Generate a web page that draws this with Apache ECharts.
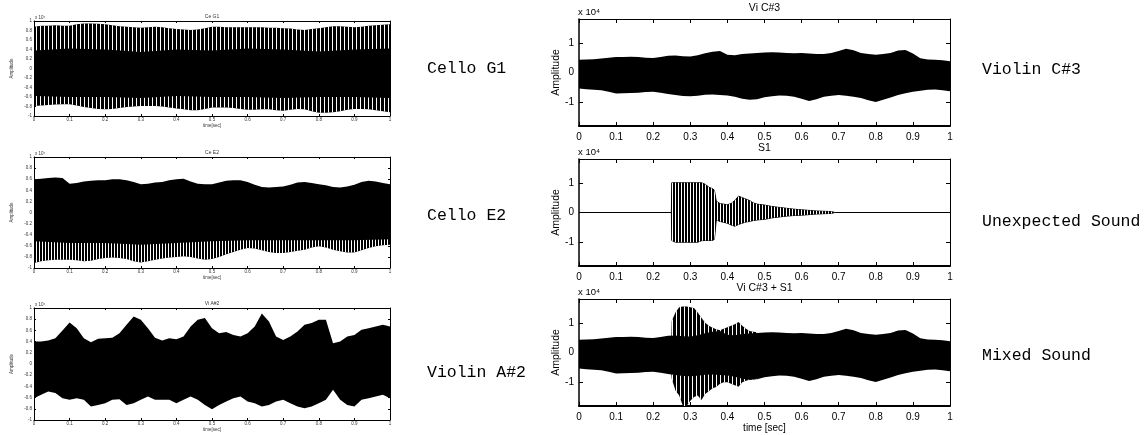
<!DOCTYPE html>
<html><head><meta charset="utf-8">
<script src="https://cdn.jsdelivr.net/npm/echarts@6/dist/echarts.min.js"></script>
<style>html,body{margin:0;padding:0;background:#fff}#c{width:1146px;height:435px}</style>
</head><body><div id="c"></div>
<script>
// ---------------- DATA ----------------
const timeGrid = [0,0.02,0.04,0.06,0.08,0.1,0.12,0.14,0.16,0.18,0.2,0.22,0.24,0.26,0.28,0.3,0.32,0.34,0.36,0.38,0.4,0.42,0.44,0.46,0.48,0.5,0.52,0.54,0.56,0.58,0.6,0.62,0.64,0.66,0.68,0.7,0.72,0.74,0.76,0.78,0.8,0.82,0.84,0.86,0.88,0.9,0.92,0.94,0.96,0.98,1];
const coarseTime = [0,0.1,0.2,0.3,0.4,0.5,0.6,0.7,0.8,0.9,1];
const xTickLabels = [0,0.1,0.2,0.3,0.4,0.5,0.6,0.7,0.8,0.9,1];
const rightYTicks = [-1,0,1];

// Cello G1 (amplitude x 10^4): spike envelope and dense core
const celloG1Upper = [0.88,0.9,0.9,0.91,0.9,0.9,0.93,0.95,0.95,0.94,0.93,0.91,0.89,0.88,0.87,0.86,0.87,0.88,0.87,0.85,0.83,0.82,0.81,0.82,0.85,0.88,0.88,0.87,0.87,0.87,0.87,0.87,0.87,0.86,0.86,0.85,0.84,0.82,0.81,0.83,0.85,0.87,0.89,0.89,0.88,0.87,0.88,0.9,0.91,0.92,0.93];
const celloG1Lower = [-0.79,-0.78,-0.77,-0.76,-0.75,-0.75,-0.78,-0.81,-0.83,-0.85,-0.86,-0.85,-0.83,-0.81,-0.8,-0.79,-0.79,-0.79,-0.8,-0.82,-0.84,-0.86,-0.88,-0.88,-0.85,-0.82,-0.82,-0.82,-0.83,-0.85,-0.87,-0.87,-0.86,-0.86,-0.88,-0.89,-0.87,-0.85,-0.86,-0.9,-0.93,-0.93,-0.92,-0.9,-0.87,-0.85,-0.85,-0.86,-0.88,-0.9,-0.92];
const celloG1CoreUpper = [0.38,0.42,0.4,0.35,0.4,0.38,0.42,0.4,0.36,0.4,0.42];
const celloG1CoreLower = [-0.58,-0.6,-0.6,-0.62,-0.58,-0.6,-0.6,-0.62,-0.6,-0.6,-0.62];

// Cello E2
const celloE2Upper = [0.6,0.61,0.62,0.63,0.62,0.52,0.53,0.56,0.57,0.58,0.58,0.6,0.6,0.58,0.55,0.51,0.52,0.54,0.55,0.58,0.6,0.61,0.56,0.52,0.51,0.51,0.54,0.57,0.58,0.58,0.55,0.5,0.46,0.45,0.46,0.47,0.5,0.54,0.55,0.53,0.51,0.49,0.46,0.45,0.47,0.5,0.55,0.57,0.56,0.53,0.51];
const celloE2Lower = [-0.91,-0.88,-0.86,-0.85,-0.85,-0.85,-0.86,-0.88,-0.87,-0.84,-0.82,-0.81,-0.82,-0.84,-0.88,-0.9,-0.88,-0.85,-0.83,-0.81,-0.8,-0.79,-0.8,-0.83,-0.85,-0.84,-0.8,-0.75,-0.71,-0.67,-0.64,-0.65,-0.68,-0.71,-0.73,-0.73,-0.71,-0.69,-0.67,-0.63,-0.61,-0.63,-0.67,-0.7,-0.72,-0.72,-0.68,-0.64,-0.61,-0.59,-0.58];
const celloE2CoreLower = [-0.52,-0.55,-0.55,-0.58,-0.55,-0.52,-0.5,-0.5,-0.5,-0.5,-0.48];

// Violin A#2
const violinA2Upper = [0.4,0.4,0.42,0.46,0.6,0.74,0.64,0.46,0.39,0.45,0.46,0.47,0.55,0.7,0.85,0.79,0.64,0.47,0.42,0.46,0.44,0.49,0.67,0.79,0.82,0.64,0.55,0.57,0.52,0.49,0.55,0.67,0.9,0.76,0.49,0.43,0.49,0.58,0.7,0.73,0.79,0.79,0.37,0.4,0.49,0.52,0.61,0.64,0.67,0.7,0.67];
const violinA2Lower = [-0.61,-0.55,-0.49,-0.52,-0.61,-0.64,-0.61,-0.64,-0.76,-0.73,-0.7,-0.64,-0.63,-0.73,-0.7,-0.64,-0.58,-0.64,-0.64,-0.64,-0.7,-0.64,-0.58,-0.64,-0.73,-0.81,-0.73,-0.67,-0.61,-0.58,-0.67,-0.7,-0.76,-0.73,-0.67,-0.64,-0.7,-0.76,-0.79,-0.76,-0.7,-0.64,-0.46,-0.64,-0.73,-0.76,-0.64,-0.61,-0.58,-0.55,-0.61];

// Violin C#3
const violinC3Upper = [0.43,0.44,0.45,0.47,0.5,0.52,0.52,0.53,0.52,0.5,0.49,0.52,0.56,0.57,0.55,0.54,0.58,0.65,0.7,0.72,0.6,0.58,0.62,0.64,0.66,0.67,0.68,0.67,0.66,0.65,0.66,0.64,0.62,0.62,0.66,0.72,0.8,0.75,0.66,0.62,0.6,0.62,0.66,0.74,0.76,0.64,0.48,0.44,0.43,0.41,0.38];
const violinC3Lower = [-0.54,-0.56,-0.58,-0.6,-0.65,-0.71,-0.7,-0.69,-0.68,-0.66,-0.65,-0.68,-0.72,-0.76,-0.79,-0.8,-0.78,-0.75,-0.74,-0.76,-0.77,-0.82,-0.88,-0.92,-0.9,-0.83,-0.8,-0.77,-0.78,-0.82,-0.88,-0.96,-0.9,-0.82,-0.78,-0.76,-0.78,-0.82,-0.86,-0.93,-0.99,-0.92,-0.84,-0.76,-0.7,-0.65,-0.61,-0.58,-0.57,-0.6,-0.63];

// S1 (unexpected sound)
const s1Time  = [0,0.249,0.25,0.26,0.27,0.28,0.29,0.3,0.31,0.32,0.33,0.34,0.35,0.36,0.365,0.37,0.38,0.39,0.4,0.41,0.42,0.43,0.44,0.45,0.46,0.47,0.48,0.5,0.52,0.54,0.56,0.58,0.6,0.62,0.64,0.66,0.68,0.69,1];
const s1Upper = [0,0,1,1,1,1,1,1,1,1,1,0.95,0.85,0.8,0.75,0.38,0.3,0.28,0.26,0.3,0.4,0.55,0.5,0.45,0.4,0.32,0.28,0.25,0.2,0.17,0.14,0.11,0.09,0.07,0.05,0.04,0.03,0,0];
const s1Lower = [0,0,-0.94,-1,-1,-1,-1,-1,-1,-1,-0.95,-0.94,-0.94,-0.94,-0.9,-0.25,-0.3,-0.33,-0.36,-0.42,-0.46,-0.4,-0.36,-0.32,-0.3,-0.27,-0.25,-0.23,-0.18,-0.15,-0.12,-0.1,-0.09,-0.07,-0.05,-0.04,-0.03,0,0];

// Mixed (Vi C#3 + S1): burst envelope on top of the violin band
const mixBurstTime  = [0.249,0.25,0.26,0.27,0.28,0.29,0.3,0.31,0.32,0.33,0.34,0.35,0.36,0.37,0.38,0.39,0.4,0.41,0.42,0.43,0.44,0.45,0.46,0.47,0.48];
const mixBurstUpper = [0.56,1.06,1.35,1.52,1.55,1.55,1.52,1.5,1.35,1.17,1.0,0.9,0.83,0.78,0.75,0.8,0.85,0.9,0.95,1.03,0.9,0.8,0.72,0.7,0.68];
const mixBurstLower = [-0.74,-0.88,-1.28,-1.45,-1.8,-1.8,-1.62,-1.5,-1.45,-1.6,-1.4,-1.3,-1.2,-1.16,-1.05,-1.0,-1.0,-1.05,-1.1,-1.15,-1.0,-0.95,-0.92,-0.9,-0.88];

// ---------------- STYLE HELPERS ----------------
function whiteStripes(period) {
  const c = document.createElement('canvas');
  c.width = period; c.height = 4;
  const g = c.getContext('2d');
  g.fillStyle = '#fff'; g.fillRect(0, 0, 1, 4);
  return { image: c, repeat: 'repeat' };
}
const stripe4 = whiteStripes(4);
const stripe3 = whiteStripes(3);

const SMALL_FONT = '"Liberation Sans", Arial, sans-serif';
const NARROW_FONT = '"Liberation Sans Narrow", "Arial Narrow", "Liberation Sans", Arial, sans-serif';
const MONO_FONT = '"Liberation Mono", "Courier New", monospace';

function band(topT, topV, botT, botV, fill, stroke) {
  return { topT, topV, botT, botV, fill, stroke };
}
// violin core over the burst window (0.24 .. 0.48)
const burstCoreT = timeGrid.slice(12, 25);
const burstCoreUpper = violinC3Upper.slice(12, 25);
const burstCoreLower = violinC3Lower.slice(12, 25);

const panels = [
  { grid:{left:34, top:21, width:356, height:95}, kind:'small', title:'Ce G1', label:'Cello G1', labelPos:[427,69],
    bands:[ band(timeGrid, celloG1Upper, timeGrid, celloG1Lower, '#000'),
            band(timeGrid, celloG1Upper, coarseTime, celloG1CoreUpper, stripe4),
            band(coarseTime, celloG1CoreLower, timeGrid, celloG1Lower, stripe4) ] },
  { grid:{left:34, top:157, width:356, height:111}, kind:'small', title:'Ce E2', label:'Cello E2', labelPos:[427,216],
    bands:[ band(timeGrid, celloE2Upper, timeGrid, celloE2Lower, '#000'),
            band(coarseTime, celloE2CoreLower, timeGrid, celloE2Lower, stripe3) ] },
  { grid:{left:34, top:308, width:356, height:112}, kind:'small', title:'Vi A#2', label:'Violin A#2', labelPos:[427,373],
    bands:[ band(timeGrid, violinA2Upper, timeGrid, violinA2Lower, '#000') ] },
  { grid:{left:579, top:19, width:371, height:107}, kind:'big', title:'Vi C#3', label:'Violin C#3', labelPos:[982,70],
    bands:[ band(timeGrid, violinC3Upper, timeGrid, violinC3Lower, '#000') ] },
  { grid:{left:579, top:159, width:371, height:107}, kind:'big', title:'S1', label:'Unexpected Sound', labelPos:[982,222],
    bands:[ band(s1Time, s1Upper, s1Time, s1Lower, '#000', '#000'),
            band(s1Time, s1Upper, s1Time, s1Lower, stripe3) ] },
  { grid:{left:579, top:299, width:371, height:107}, kind:'big', title:'Vi C#3 + S1', label:'Mixed Sound', labelPos:[982,356], xName:'time [sec]',
    bands:[ band(timeGrid, violinC3Upper, timeGrid, violinC3Lower, '#000'),
            band(mixBurstTime, mixBurstUpper, mixBurstTime, mixBurstLower, '#000'),
            band(mixBurstTime, mixBurstUpper, burstCoreT, burstCoreUpper, stripe4),
            band(burstCoreT, burstCoreLower, mixBurstTime, mixBurstLower, stripe4) ] }
];

// ---------------- BUILD OPTION ----------------
const grids = [], xAxes = [], yAxes = [], series = [], graphics = [];

panels.forEach((p, i) => {
  const small = p.kind === 'small';
  grids.push(Object.assign({ containLabel:false }, p.grid));
  const lblStyle = small
    ? { fontSize:4.5, color:'#333', fontFamily:SMALL_FONT }
    : { fontSize:10, color:'#000', fontFamily:NARROW_FONT };
  const tickLen = small ? 2 : 4;
  const wMain = small ? 1 : 2, wLeft = small ? 1 : 1.5, wOther = 1;

  xAxes.push({
    gridIndex:i, type:'value', min:0, max:1, interval:0.1, position:'bottom',
    axisLine:{ show:true, onZero:false, lineStyle:{ color:'#000', width:wMain } },
    axisTick:{ show:true, inside:true, length:tickLen, customValues:xTickLabels, lineStyle:{ color:'#000' } },
    axisLabel:{ show:true, customValues:xTickLabels, margin: small ? 1.5 : 6, ...lblStyle },
    splitLine:{ show:false },
    name: small ? 'time[sec]' : (p.xName || ''),
    nameLocation:'middle', nameGap: small ? 5 : 15,
    nameTextStyle: small ? { fontSize:4.5, color:'#333', fontFamily:SMALL_FONT } : { fontSize:10, color:'#000', fontFamily:NARROW_FONT }
  });
  xAxes.push({
    gridIndex:i, type:'value', min:0, max:1, interval:0.1, position:'top',
    axisLine:{ show:true, onZero:false, lineStyle:{ color:'#000', width:wOther } },
    axisTick:{ show:true, inside:true, length:tickLen, customValues:xTickLabels, lineStyle:{ color:'#000' } },
    axisLabel:{ show:false }, splitLine:{ show:false }
  });

  const yBase = small ? { min:-1, max:1, interval:0.2 } : { min:-1.8, max:1.8 };
  const yTickCfg = small ? {} : { customValues: rightYTicks };
  yAxes.push(Object.assign({
    gridIndex:i, type:'value', position:'left',
    axisLine:{ show:true, onZero:false, lineStyle:{ color:'#000', width:wLeft } },
    axisTick:Object.assign({ show:true, inside:true, length:tickLen, lineStyle:{ color:'#000' } }, yTickCfg),
    axisLabel:Object.assign({ show:true, margin: small ? 2 : 5 }, lblStyle, yTickCfg),
    splitLine:{ show:false },
    name:'Amplitude', nameLocation:'middle', nameGap: small ? 20 : 14, nameRotate:90,
    nameTextStyle: small ? { fontSize:4.5, color:'#333', fontFamily:SMALL_FONT } : { fontSize:10.5, color:'#000', fontFamily:NARROW_FONT }
  }, yBase));
  yAxes.push(Object.assign({
    gridIndex:i, type:'value', position:'right',
    axisLine:{ show:true, onZero:false, lineStyle:{ color:'#000', width:wOther } },
    axisTick:Object.assign({ show:true, inside:true, length:tickLen, lineStyle:{ color:'#000' } }, yTickCfg),
    axisLabel:{ show:false }, splitLine:{ show:false }
  }, yBase));

  p.bands.forEach((b) => {
    const data = b.topT.map((t, k) => [t, b.topV[k]]).concat(b.botT.map((t, k) => [t, b.botV[k]]));
    series.push({
      type:'custom', xAxisIndex:2*i, yAxisIndex:2*i, clip:true, silent:true,
      data,
      renderItem(params, api) {
        if (params.dataIndex !== 0) return null;
        const pts = [];
        for (let k = 0; k < b.topT.length; k++) pts.push(api.coord([b.topT[k], b.topV[k]]));
        for (let k = b.botT.length - 1; k >= 0; k--) pts.push(api.coord([b.botT[k], b.botV[k]]));
        return {
          type:'polygon', shape:{ points:pts },
          style:{ fill:b.fill, stroke:b.stroke || null, lineWidth: b.stroke ? 1 : 0 }
        };
      }
    });
  });

  const cx = p.grid.left + p.grid.width / 2;
  if (small) {
    graphics.push({ type:'text', x:cx, y:p.grid.top - 4, style:{ text:p.title, fontSize:5, fontFamily:SMALL_FONT, fill:'#333', align:'center', verticalAlign:'middle' } });
    graphics.push({ type:'text', x:p.grid.left + 1, y:p.grid.top - 3, style:{ text:'x 10\u2074', fontSize:4.5, fontFamily:SMALL_FONT, fill:'#333', align:'left', verticalAlign:'middle' } });
  } else {
    graphics.push({ type:'text', x:cx, y:p.grid.top - 11, style:{ text:p.title, fontSize:10.5, fontFamily:NARROW_FONT, fill:'#000', align:'center', verticalAlign:'middle' } });
    graphics.push({ type:'text', x:p.grid.left - 1, y:p.grid.top - 7, style:{ text:'x 10\u2074', fontSize:9.5, fontFamily:NARROW_FONT, fill:'#000', align:'left', verticalAlign:'middle' } });
  }
  graphics.push({ type:'text', x:p.labelPos[0], y:p.labelPos[1], style:{ text:p.label, fontSize:16.5, fontFamily:MONO_FONT, fill:'#000', align:'left', verticalAlign:'middle' } });
});

const chart = echarts.init(document.getElementById('c'), null, { renderer:'canvas' });
chart.setOption({
  animation:false,
  backgroundColor:'#fff',
  grid:grids, xAxis:xAxes, yAxis:yAxes, series,
  graphic:{ elements:graphics }
});
</script>
</body></html>
